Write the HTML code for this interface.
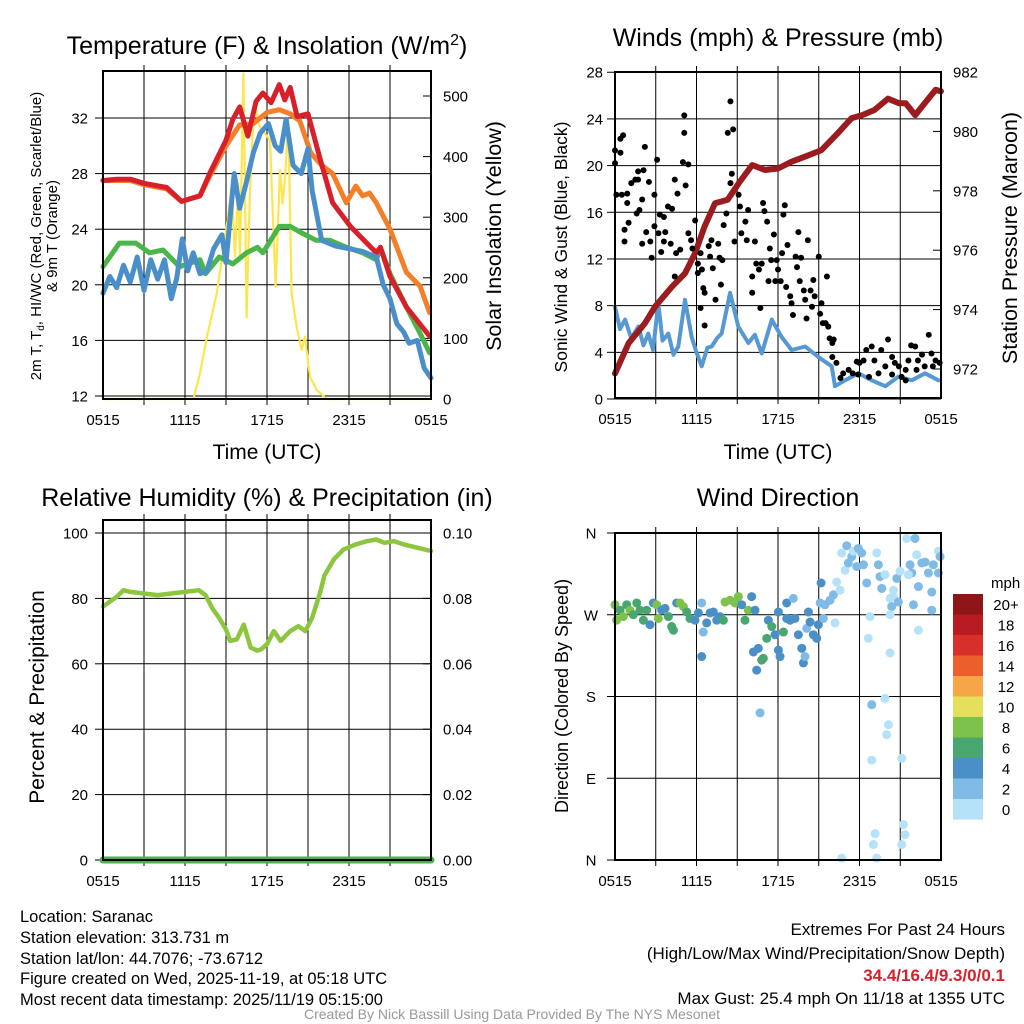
<!DOCTYPE html>
<html><head><meta charset="utf-8"><style>
html,body{margin:0;padding:0;background:#fff;}
svg{display:block;font-family:"Liberation Sans",sans-serif;}
</style></head><body>
<svg id="c" width="1024" height="1024" viewBox="0 0 1024 1024" xmlns="http://www.w3.org/2000/svg">
<rect width="1024" height="1024" fill="#fff"/>
<text x="267" y="54" font-size="25" text-anchor="middle">Temperature (F) &amp; Insolation (W/m<tspan dy="-9" font-size="16">2</tspan><tspan dy="9">)</tspan></text>
<text x="778" y="46" font-size="25" text-anchor="middle">Winds (mph) &amp; Pressure (mb)</text>
<text x="267" y="506" font-size="25" text-anchor="middle">Relative Humidity (%) &amp; Precipitation (in)</text>
<text x="778" y="506" font-size="25" text-anchor="middle">Wind Direction</text>

<text x="267" y="459" font-size="21" text-anchor="middle">Time (UTC)</text>
<text x="778" y="459" font-size="21" text-anchor="middle">Time (UTC)</text>

<text transform="translate(41,236) rotate(-90)" font-size="15" text-anchor="middle">2m T, T<tspan font-size="10" dy="3">d</tspan><tspan dy="-3">, HI/WC (Red, Green, Scarlet/Blue)</tspan></text>
<text transform="translate(57,236) rotate(-90)" font-size="15" text-anchor="middle">&amp; 9m T (Orange)</text>
<text transform="translate(501,236) rotate(-90)" font-size="21.5" text-anchor="middle">Solar Insolation (Yellow)</text>
<text transform="translate(567,247) rotate(-90)" font-size="17.5" text-anchor="middle">Sonic Wind &amp; Gust (Blue, Black)</text>
<text transform="translate(1017,238) rotate(-90)" font-size="21.5" text-anchor="middle">Station Pressure (Maroon)</text>
<text transform="translate(44,697) rotate(-90)" font-size="21" text-anchor="middle">Percent &amp; Precipitation</text>
<text transform="translate(568,696) rotate(-90)" font-size="18" text-anchor="middle">Direction (Colored By Speed)</text>

<g font-size="16.5">
<text x="20" y="922">Location: Saranac</text>
<text x="20" y="943">Station elevation: 313.731 m</text>
<text x="20" y="964">Station lat/lon: 44.7076; -73.6712</text>
<text x="20" y="984">Figure created on Wed, 2025-11-19, at 05:18 UTC</text>
<text x="20" y="1005">Most recent data timestamp: 2025/11/19 05:15:00</text>
</g>
<g font-size="17" text-anchor="end">
<text x="1005" y="935">Extremes For Past 24 Hours</text>
<text x="1005" y="959">(High/Low/Max Wind/Precipitation/Snow Depth)</text>
<text x="1005" y="981" fill="#d7202a" font-weight="bold">34.4/16.4/9.3/0/0.1</text>
<text x="1005" y="1004">Max Gust: 25.4 mph On 11/18 at 1355 UTC</text>
</g>
<text x="512" y="1019" font-size="14" fill="#999" text-anchor="middle">Created By Nick Bassill Using Data Provided By The NYS Mesonet</text>
</svg>
<script>
// ---- Temperature panel data ----
const redH=[0,1,2,3,4.66,5.75,7.1,7.8,9.0,9.5,10.0,10.6,11.2,11.7,12.3,12.9,13.3,13.7,14.2,15.0,15.9,16.8,18.1,19.3,20.0,20.3,21.0,22.2,23.9];
const redT=[27.5,27.6,27.6,27.3,27.0,26.0,26.4,28.0,30.4,31.9,32.8,30.7,33.2,33.8,33.1,34.4,33.3,34.2,32.1,32.3,29.0,25.9,24.2,23.0,22.3,22.7,20.6,18.4,16.3];
const orH=[0,1,2,3,4.66,5.75,7.1,7.8,9.0,10.0,11.0,12.0,12.9,13.7,14.4,15.2,16.0,16.8,17.8,18.5,19.0,19.5,20.0,21.0,22.2,23.2,23.9];
const orT=[27.5,27.5,27.5,27.2,26.9,26.0,26.4,27.8,30.0,31.5,31.6,32.4,32.6,32.3,31.8,29.5,28.6,28.0,25.9,27.1,26.4,26.6,25.9,24.0,20.9,19.9,18.0];
const tdH=[0,1.2,2.4,3.4,4.4,5.6,7.1,7.5,8.5,9.5,10.5,11.3,11.7,12.9,13.7,14.6,15.6,16.6,17.8,19.0,20.0,20.3,21.0,22.2,23.2,23.9];
const tdT=[21.3,23.0,23.0,22.3,22.5,21.3,21.8,20.8,22.0,21.5,22.3,22.7,22.3,24.2,24.2,23.7,23.2,23.2,22.7,22.3,21.8,22.7,20.8,18.4,16.5,15.1];
const hiH=[0,0.5,1,1.5,2,2.5,3,3.5,4,4.5,5,5.4,5.8,6.2,6.6,7.1,7.6,8.1,8.7,9.0,9.6,10.0,10.5,11.0,11.5,12.1,12.6,13.0,13.4,13.9,14.5,15.0,15.3,16.0,17.0,18.0,19.0,20.0,20.5,21.0,21.5,22.0,22.4,23.0,23.5,24.0];
const hiT=[19.4,20.6,19.8,21.4,20.2,22.0,19.6,21.8,20.4,21.8,19.0,20.5,23.3,21.0,22.3,20.8,21.0,22.6,23.6,21.6,28.0,25.5,27.4,29.5,30.9,31.6,30.0,29.6,31.9,28.6,28.0,29.8,26.8,23.2,22.8,22.6,22.4,22.0,20.0,19.0,17.2,16.6,15.8,16.0,14.0,13.3];
const solH=[0,6.4,6.61,7.1,7.58,8.32,9.05,9.41,9.66,9.9,10.02,10.27,10.51,10.75,11.05,11.48,12.22,12.46,12.63,12.95,13.14,13.31,13.56,13.8,14.17,14.53,14.78,15.14,15.63,16.36,24];
const solV=[0,0,0,42,100,174,284,350,235,356,229,537,135,339,488,449,427,284,185,378,323,361,460,174,119,81,103,37,15,0,0];
const tempTicks=[12,16,20,24,28,32];
const solTicks=[0,100,200,300,400,500];
const timeLabels=["0515","1115","1715","2315","0515"];
// ---- Winds panel data ----
const presH=[0,1,2.2,2.95,4.2,5.15,5.9,6.6,7.36,8.3,9.1,10.1,11.04,12.0,13.0,14.0,15.2,16.4,17.4,18.2,19.1,20.1,20.9,21.4,22.1,22.8,23.6,24];
const presP=[971.85,972.87,973.54,974.1,974.77,975.22,975.9,976.8,977.58,977.7,978.25,978.87,978.7,978.75,978.98,979.15,979.37,979.94,980.44,980.55,980.72,981.1,980.95,980.95,980.55,980.95,981.4,981.35];
const windH=[0,0.37,0.74,1.2,1.72,2.1,2.45,2.8,3.19,3.5,3.93,4.3,4.66,5.15,5.65,6.0,6.38,6.8,7.12,7.5,7.85,8.47,9.08,9.82,10.3,10.8,11.54,12.27,13.0,14.0,14.97,15.95,16.2,16.94,17.92,18.9,19.9,20.86,21.85,22.83,23.8];
const windV=[7.9,6.0,6.8,5.2,6.2,4.6,5.6,4.2,8.2,5.0,5.6,3.8,4.5,8.5,5.3,4.0,2.8,4.4,4.5,5.2,5.6,9.1,6.2,4.8,5.5,3.9,6.8,5.3,4.2,4.5,3.6,2.8,1.1,1.6,2.2,1.6,1.1,1.9,1.6,2.2,1.6];
const gustH=[0,0,0.4,0.4,0.6,0.1,0.5,0.9,0.7,0.7,1.0,0.9,1.2,1.5,1.7,1.7,1.6,1.8,2.1,2.0,2.2,2.5,2.0,2.3,2.6,2.7,2.9,2.9,3.1,3.2,3.3,3.4,3.6,3.7,3.6,3.9,4.1,4.2,4.4,4.4,4.5,4.6,4.8,5.0,5.1,5.1,5.2,5.4,5.4,5.6,5.7,5.9,6.1,6.1,6.3,6.4,6.5,6.6,6.6,6.3,6.9,7.0,7.1,7.2,7.4,7.6,7.7,7.9,7.8,8.0,8.2,8.3,8.5,8.7,8.5,8.6,8.8,9.1,9.2,9.3,9.6,9.7,9.8,10.1,10.1,10.3,10.4,10.6,10.7,10.8,10.9,11.0,11.2,11.3,11.4,11.5,11.7,11.8,11.9,12.0,12.2,12.3,12.4,12.5,12.6,12.7,12.9,13.0,13.1,13.3,13.4,13.5,13.6,13.7,13.9,14.0,14.1,14.2,14.4,14.5,14.6,14.7,15.0,15.1,15.2,15.3,15.5,15.6,15.7,15.8,16.0,16.1,16.0,16.3,16.6,16.8,17.2,17.5,17.8,18.0,18.3,18.5,18.9,19.1,19.4,19.6,19.9,20.1,20.4,20.6,20.9,21.1,21.4,21.6,21.8,22.1,22.3,22.6,22.8,23.1,23.3,23.6,23.9,17.9,18.7,20.4,21.4,22.2,23.4];
const gustV=[20.2,21.3,21.1,22.3,22.6,17.5,17.5,17.6,14.5,13.5,15.1,16.8,18.5,18.8,19.5,18.8,15.9,16.2,19.6,17.1,21.6,18.6,13.3,14.3,13.5,12.1,17.5,14.8,20.5,14.2,15.8,12.6,15.6,14.3,13.5,16.5,13.3,16.3,18.8,10.5,12.5,17.6,12.8,20.3,22.8,24.3,18.3,20.1,14.2,13.6,12.9,15.3,10.8,11.6,12.5,11.1,9.5,9.1,6.3,7.8,13.1,12.2,13.6,11.2,8.5,13.3,12.1,11.9,9.8,14.9,15.9,22.8,25.5,23.1,18.5,19.3,13.5,17.5,16.5,14.2,15.2,13.6,16.2,10.5,9.1,13.5,11.6,11.1,7.8,11.6,16.8,16.1,15.2,10.1,12.9,11.9,14.1,10.1,11.9,11.1,10.1,12.5,15.8,16.6,9.6,13.2,8.8,8.2,7.2,12.2,11.3,14.3,10.1,12.1,9.3,8.5,6.9,13.6,9.3,7.9,10.2,8.8,12.2,7.3,8.2,6.5,6.5,10.5,6.2,5.2,4.8,5.1,3.6,3.1,1.8,2.2,2.5,2.2,3.2,3.1,3.3,4.2,4.5,3.3,2.2,4.2,2.8,5.1,3.6,3.1,2.8,1.9,2.5,3.3,4.6,4.5,3.3,3.8,2.8,5.5,3.9,3.3,3.1,2.1,1.9,2.1,1.6,2.5,2.8];
const windTicks=[0,4,8,12,16,20,24,28];
const presTicks=[972,974,976,978,980,982];
// ---- RH panel data ----
const rhH=[0,0.5,1,1.5,2,3,4,5,6,7,7.5,8,8.5,9,9.3,9.8,10.3,10.8,11.3,11.6,12,12.5,13,13.7,14.3,14.8,15.3,15.9,16.2,16.9,17.6,18.5,19.3,20.0,20.6,21.3,22,23,24];
const rhV=[77.5,79,80.5,82.5,82,81.5,81,81.5,82,82.5,81,77,74,70.5,67,67.5,72,65,64,64.5,66,70,67,70,71.5,70,74,82,87,92,95,96.5,97.5,98,97,97.5,96.5,95.5,94.5];
const precipH=[0,24];
const precipV=[0,0];
const rhTicks=[0,20,40,60,80,100];
const precipTicks=["0.00","0.02","0.04","0.06","0.08","0.10"];
// ---- Wind direction data ----
const dirH=[0,0.12,0.37,0.61,0.86,1.1,1.35,1.6,1.84,2.09,2.33,2.58,2.82,3.07,3.19,3.44,3.68,3.93,4.17,4.3,4.54,4.79,5.03,5.28,5.52,5.89,6.14,6.38,6.5,6.75,7.0,7.24,7.49,7.73,7.98,8.1,8.47,8.84,9.08,9.33,9.57,9.82,10.06,10.31,6.38,
10.19,10.43,10.55,10.8,10.92,11.17,11.29,11.54,11.78,12.03,12.03,12.15,12.4,12.64,12.64,12.89,13.13,13.25,13.5,13.75,13.87,13.99,14.11,14.36,14.6,14.85,14.97,14.24,15.1,15.17,15.34,10.68,16.2,
15.46,15.83,16.08,16.32,16.57,16.94,17.18,17.43,16.69,17.06,17.55,17.92,18.16,17.8,18.29,18.53,18.78,18.65,19.27,19.39,19.51,19.64,19.88,20.25,20.37,20.5,20.5,20.74,20.86,20.99,21.48,22.09,22.21,21.72,21.85,21.6,21.97,22.34,22.58,22.83,23.07,23.44,23.81,23.93,23.81,23.32,23.32,20.25,22.34,20.25,19.88,18.9,20.13,20.0,18.9,21.11,21.23,21.35,19.15,19.02,21.11,19.27,16.69];
const dirDeg=[281,264,275,268,281,275,270,283,275,264,275,259,283,281,266,275,277,268,257,253,283,283,279,273,266,264,272,283,251,261,272,273,264,268,264,284,286,283,290,281,264,275,290,275,224,
229,209,233,220,222,244,264,257,248,273,231,224,251,266,283,264,288,266,248,233,217,224,255,262,248,244,259,273,283,305,266,162,261,
281,286,292,306,297,319,327,334,338,346,340,343,338,323,325,305,268,244,338,325,312,299,314,288,279,290,297,310,284,318,354,354,336,325,316,314,281,301,327,328,316,325,340,334,316,295,275,270,253,228,178,171,149,138,110,112,39,28,29,17,17,2,2];
const dirSpd=[8,8,7,8,7,8,7,7,7,7,7,5,5,9,8,5,5,7,7,7,5,9,9,7,7,5,5,3,3,5,5,5,5,5,7,8,9,9,8,5,7,9,5,5,5,
5,5,5,6,6,6,5,6,5,5,5,5,6,5,5,5,3,5,5,5,5,3,3,5,5,5,5,5,3,5,3,3,1,
3,3,3,1,1,1,3,3,1,3,1,3,3,3,3,3,1,1,1,3,3,3,1,1,3,1,1,3,3,1,1,3,1,3,3,1,3,3,3,3,3,3,1,3,3,3,3,1,1,1,1,3,1,1,1,1,1,1,1,1,1,1,1];
const dirTickLabels=["N","E","S","W","N"];
const cbLabels=["20+","18","16","14","12","10","8","6","4","2","0"];
const cbColors=["#8e1518","#b81c22","#d7302a","#ec5e2b","#f6a646","#e5e05b","#7dc34b","#48a671","#4a90c6","#7fbbe5","#b5e2f8"];

const svg=document.getElementById('c');
const NS='http://www.w3.org/2000/svg';
function mk(tag,attrs,parent){const e=document.createElementNS(NS,tag);for(const k in attrs)e.setAttribute(k,attrs[k]);(parent||svg).appendChild(e);return e;}
function poly(xs,ys,fx,fy,color,w,name){
  const pts=xs.map((h,i)=>fx(h).toFixed(1)+','+fy(ys[i]).toFixed(1)).join(' ');
  const p=mk('polyline',{points:pts,fill:'none',stroke:color,'stroke-width':w,'stroke-linejoin':'round','stroke-linecap':'round'});
  
  
  return p;
}
function panel(x0,x1,y0,y1,name,hgrid,labels){
  const g=mk('g',{});
  
  
  const X=h=>x0+h*(x1-x0)/24;
  for(let h=3;h<24;h+=3){const l=mk('line',{x1:X(h),x2:X(h),y1:y0,y2:y1,stroke:'#000','stroke-width':1},g);
    
    
    mk('line',{x1:X(h),x2:X(h),y1:y0-6,y2:y0,stroke:'#000','stroke-width':1},g);
    mk('line',{x1:X(h),x2:X(h),y1:y1,y2:y1+6,stroke:'#000','stroke-width':1},g);}
  hgrid.forEach(y=>{const l=mk('line',{x1:x0,x2:x1,y1:y,y2:y,stroke:'#000','stroke-width':1},g);
    
    
    mk('line',{x1:x0-8,x2:x0,y1:y,y2:y,stroke:'#000','stroke-width':1},g);});
  labels.forEach((t,i)=>{const tx=mk('text',{x:X(i*6),y:y1+26,'font-size':15,'text-anchor':'middle'},g);tx.textContent=t;
    
    });
  return {g,X};
}
function frame(x0,x1,y0,y1,name){const r=mk('rect',{x:x0,y:y0,width:x1-x0,height:y1-y0,fill:'none',stroke:'#000','stroke-width':2});
  
  }
function ylab(x,y,t,anchor,name){const tx=mk('text',{x:x,y:y+5.5,'font-size':15,'text-anchor':anchor});tx.textContent=t;
  
  }

// Panel 1
{const x0=103,x1=431,y0=71,y1=399;
 const YT=t=>396-(t-12)*13.9, YS=v=>399-v*0.606;
 const P=panel(x0,x1,y0,y1,'temperature-panel',tempTicks.map(YT),timeLabels);
 tempTicks.forEach(t=>ylab(x0-15,YT(t),String(t),'end','temp-tick-label'));
 solTicks.forEach(v=>{ylab(x1+12,YS(v),String(v),'start','insolation-tick-label');mk('line',{x1:x1,x2:x1-8,y1:YS(v),y2:YS(v),stroke:'#000'});});
 poly(solH,solV,P.X,YS,'#fde64b',2.2,'insolation-line');
 poly(tdH,tdT,P.X,YT,'#4ab548',5,'dewpoint-line');
 poly(orH,orT,P.X,YT,'#f47f2a',5,'temp-9m-line');
 poly(redH,redT,P.X,YT,'#d7202a',5,'temp-2m-line');
 poly(hiH,hiT,P.X,YT,'#4a8fc9',5,'heat-index-windchill-line');
 frame(x0,x1,y0,y1,'temperature-frame');}
// Panel 2
{const x0=615,x1=941,y0=72,y1=398;
 const YW=v=>399-v*11.67, YP=p=>369-(p-972)*29.7;
 const P=panel(x0,x1,y0,y1,'winds-panel',windTicks.map(YW),timeLabels);
 windTicks.forEach(v=>ylab(x0-12,YW(v),String(v),'end','wind-tick-label'));
 presTicks.forEach(p=>{ylab(x1+12,YP(p),String(p),'start','pressure-tick-label');mk('line',{x1:x1,x2:x1-8,y1:YP(p),y2:YP(p),stroke:'#000'});});
 poly(windH,windV,P.X,YW,'#5598d2',4,'sonic-wind-line');
 poly(presH,presP,P.X,YP,'#9b1b1e',6,'pressure-line');
 gustH.forEach((h,i)=>{const c=mk('circle',{cx:P.X(h),cy:YW(gustV[i]),r:3,fill:'#000'});
   
   });
 frame(x0,x1,y0,y1,'winds-frame');}
// Panel 3
{const x0=103,x1=431,y0=520,y1=860;
 const YR=v=>860-v*3.27;
 const P=panel(x0,x1,y0,y1,'rh-panel',rhTicks.map(YR),timeLabels);
 rhTicks.forEach(v=>ylab(x0-15,YR(v),String(v),'end','rh-tick-label'));
 precipTicks.forEach((t,i)=>{ylab(x1+12,YR(rhTicks[i]),t,'start','precip-tick-label');mk('line',{x1:x1,x2:x1-8,y1:YR(rhTicks[i]),y2:YR(rhTicks[i]),stroke:'#000'});});
 poly(rhH,rhV,P.X,YR,'#8cc63f',4.5,'rh-line');
 poly(precipH,precipV,P.X,v=>860-v*3270,'#4caf50',7,'precip-line');
 frame(x0,x1,y0,y1,'rh-frame');}
// Panel 4
{const x0=615,x1=941,y0=533,y1=860;
 const YD=d=>860-d*(y1-y0)/360;
 const P=panel(x0,x1,y0,y1,'wind-direction-panel',[0,90,180,270,360].map(YD),timeLabels);
 dirTickLabels.forEach((t,i)=>ylab(x0-24,YD(i*90),t,'middle','direction-tick-label'));
 dirH.forEach((h,i)=>{const b=Math.min(10,Math.floor(dirSpd[i]/2));
   const c=mk('circle',{cx:P.X(h),cy:YD(dirDeg[i]),r:4.5,fill:cbColors[10-b]});
   
   });
 frame(x0,x1,y0,y1,'wind-direction-frame');
 const cb=mk('g',{});
 
 
 const t=mk('text',{x:991,y:588,'font-size':15},cb);t.textContent='mph';
 cbColors.forEach((col,i)=>{mk('rect',{x:953,y:594+i*20.5,width:30,height:20.6,fill:col},cb);
   const l=mk('text',{x:1006,y:594+i*20.5+16,'font-size':15,'text-anchor':'middle'},cb);l.textContent=cbLabels[i];
   
   });}
</script>
</body></html>
